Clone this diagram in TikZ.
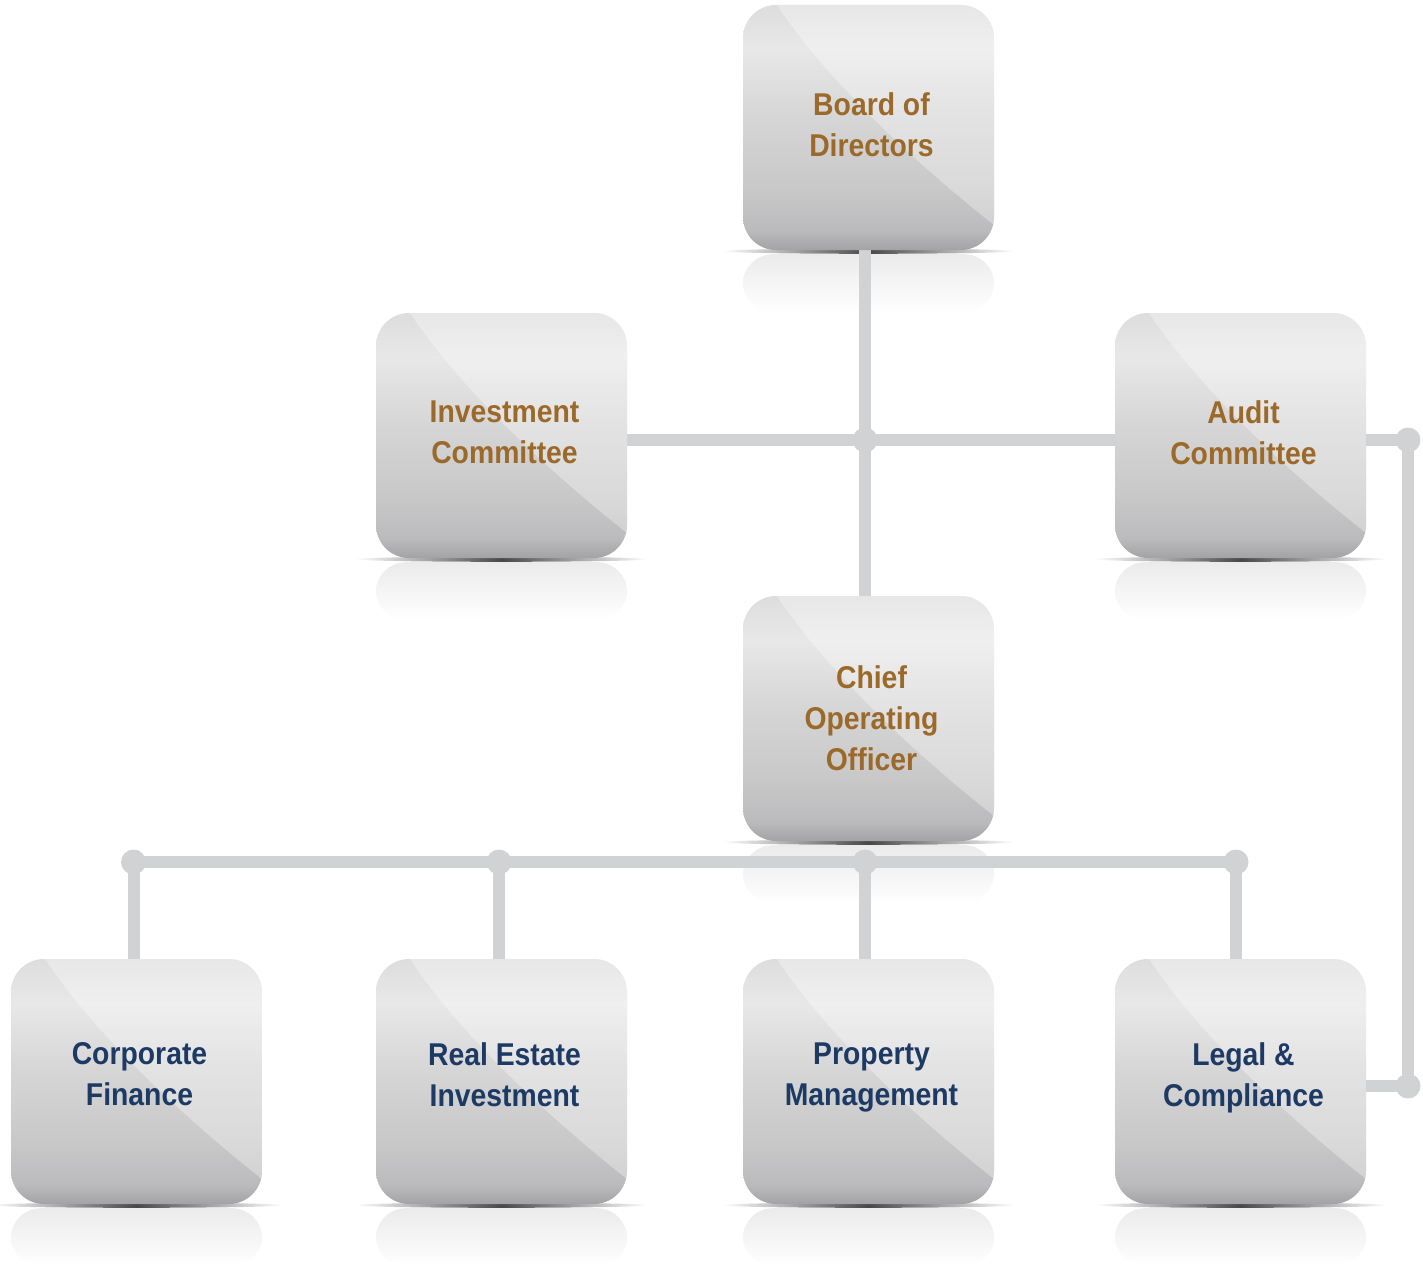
\documentclass[tikz,border=0pt]{standalone}
\usepackage{fontspec}
\setmainfont{Liberation Sans}
\newfontfamily\boxfont[FakeStretch=0.9]{Liberation Sans}
\usetikzlibrary{fadings}
\definecolor{gold}{HTML}{9B6A2A}
\definecolor{navy}{HTML}{1C3A64}
\definecolor{conncol}{HTML}{D1D2D4}
\definecolor{refltop}{HTML}{EBEBEB}
\definecolor{bxa}{HTML}{A3A3A6}
\definecolor{bxb}{HTML}{BBBBBD}
\definecolor{bxc}{HTML}{C8C8C9}
\definecolor{bxd}{HTML}{D6D6D6}
\definecolor{bxe}{HTML}{E8E8E8}
\definecolor{bxf}{HTML}{DDDDDD}
\pgfdeclareverticalshading{boxshade}{100bp}{color(0bp)=(bxa); color(25bp)=(bxa); color(29bp)=(bxb); color(37.5bp)=(bxc); color(52.5bp)=(bxd); color(66bp)=(bxe); color(75bp)=(bxf); color(100bp)=(bxf)}
\tikzfading[name=shadowfade, left color=transparent!100, right color=transparent!100, middle color=transparent!10]
\pgfdeclarelayer{refl}
\pgfdeclarelayer{lines}
\pgfsetlayers{refl,lines,main}
\begin{document}
\begin{tikzpicture}[x=1pt,y=-1pt,
  obox/.style={rectangle, rounded corners=33pt, minimum width=251pt, minimum height=245pt,
    inner sep=0pt, shade, shading=boxshade,
    path picture={\fill[white, opacity=0.32, sharp corners]
      ([xshift=34pt]path picture bounding box.north west)
      .. controls +(43,65) and +(-95,-75) ..
      ([yshift=25pt]path picture bounding box.south east)
      -- (path picture bounding box.north east) -- cycle;}},
  boxtext/.style={inner sep=0pt, align=center, font=\boxfont\bfseries\fontsize{31.5}{41}\selectfont},
  upper/.style={boxtext, text=gold},
  lower/.style={boxtext, text=navy},
  link/.style={draw=conncol, line width=12pt},
  dot/.style={fill=conncol}]
\useasboundingbox (0,0) rectangle (1423,1263);

\node[obox] (board) at (868.5,127.5) {};
\node[obox] (inv) at (501.5,435.5) {};
\node[obox] (audit) at (1240.5,435.5) {};
\node[obox] (coo) at (868.5,718.5) {};
\node[obox] (cf) at (136.5,1081.5) {};
\node[obox] (re) at (501.5,1081.5) {};
\node[obox] (pm) at (868.5,1081.5) {};
\node[obox] (lc) at (1240.5,1081.5) {};

\node[upper] (board-t) at ([shift={(3,-3)}]board.center) {Board of\\Directors};
\node[upper] (inv-t) at ([shift={(3,-3)}]inv.center) {Investment\\Committee};
\node[upper] (audit-t) at ([shift={(3,-3)}]audit.center) {Audit\\Committee};
\node[upper] (coo-t) at ([shift={(3,0)}]coo.center) {Chief\\Operating\\Officer};
\node[lower] (cf-t) at ([shift={(3,-7)}]cf.center) {Corporate\\Finance};
\node[lower] (re-t) at ([shift={(3,-7)}]re.center) {Real Estate\\Investment};
\node[lower] (pm-t) at ([shift={(3,-4)}]pm.center) {Property\\Management};
\node[lower] (lc-t) at ([shift={(3,-4)}]lc.center) {Legal \&\\Compliance};

\coordinate (hub) at (865,440);
\coordinate (ar) at (1408,440);
\coordinate (lr) at (1408,1086);
\coordinate (jcf) at (133.5,862);
\coordinate (jre) at (499,862);
\coordinate (jpm) at (865,862);
\coordinate (jlc) at (1236,862);

\begin{pgfonlayer}{refl}
\foreach \n in {board,inv,audit,coo,cf,re,pm,lc}{
  \shade[top color=refltop, bottom color=white, rounded corners=30pt]
    ([yshift=-4pt]\n.south west) rectangle ([yshift=-62pt]\n.south east);
  \fill[black!80, path fading=shadowfade] ([yshift=-1pt]\n.south) ellipse [x radius=146, y radius=2.6];
}
\end{pgfonlayer}

\begin{pgfonlayer}{lines}
\draw[link] (board.south -| hub) -- (coo.north -| hub);
\draw[link] (inv.east |- hub) -- (audit.west |- hub);
\draw[link] (audit.east |- ar) -- (ar) -- (lr) -- (lc.east |- lr);
\draw[link] (jcf) -- (jlc);
\foreach \j/\n in {jcf/cf, jre/re, jpm/pm, jlc/lc}{
  \draw[link] (\j) -- (\j |- \n.north);
}
\foreach \j in {hub, ar, lr, jcf, jre, jpm, jlc}{
  \fill[dot] (\j) circle [radius=12.5];
}
\end{pgfonlayer}
\end{tikzpicture}
\end{document}
